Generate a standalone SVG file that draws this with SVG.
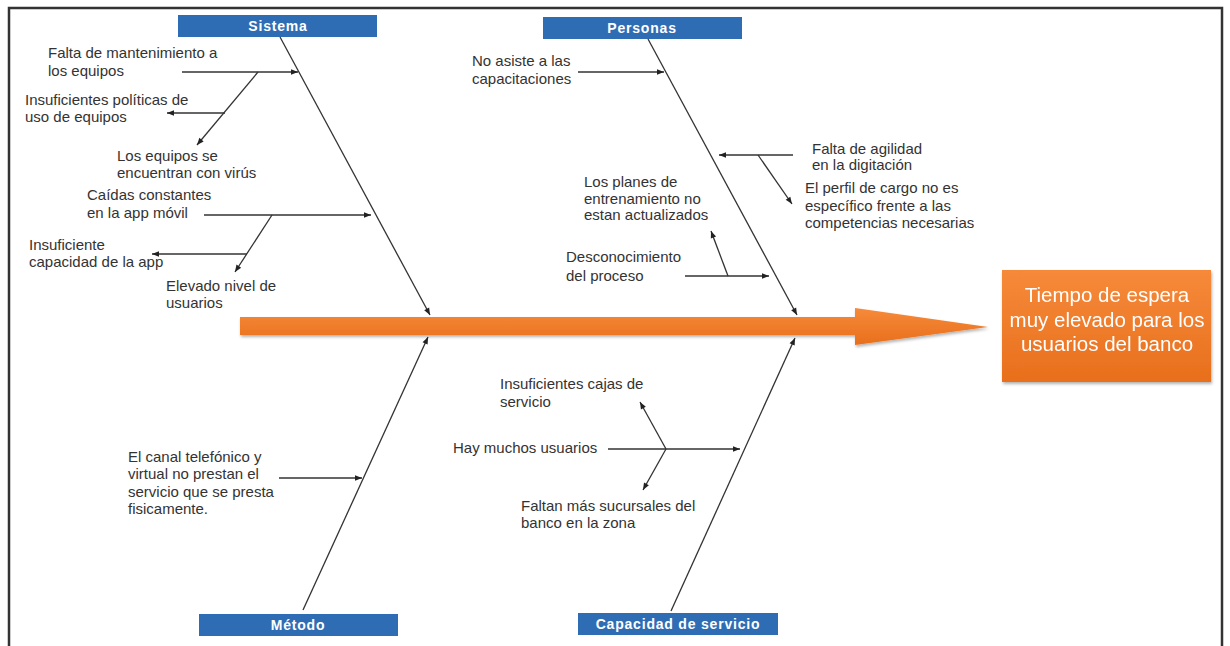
<svg xmlns="http://www.w3.org/2000/svg" width="1230" height="646" viewBox="0 0 1230 646">
<style>
.t{font-family:"Liberation Sans",Arial,sans-serif;font-size:15px;fill:#333}
.h{font-family:"Liberation Sans",Arial,sans-serif;font-size:14px;font-weight:bold;fill:#fff;letter-spacing:0.8px;text-anchor:middle}
.hb{fill:#2E6DB4}
.l{stroke:#333;stroke-width:1.3;fill:none}
.a{marker-end:url(#ah)}
.r{font-family:"Liberation Sans",Arial,sans-serif;font-size:20.5px;fill:#fff;text-anchor:middle}
</style>
<defs>
<marker id="ah" viewBox="0 0 10 10" refX="10" refY="5" markerWidth="9" markerHeight="7" markerUnits="userSpaceOnUse" orient="auto">
<path d="M0,1 L10,5 L0,9 Z" fill="#222"/>
</marker>
<linearGradient id="og" x1="0" y1="0" x2="0" y2="1">
<stop offset="0" stop-color="#F68A3A"/>
<stop offset="1" stop-color="#E86F1C"/>
</linearGradient>
<filter id="sh" x="-10%" y="-30%" width="120%" height="160%">
<feDropShadow dx="1" dy="2" stdDeviation="1.5" flood-color="#000" flood-opacity="0.3"/>
</filter>
</defs>
<rect x="0" y="0" width="1230" height="646" fill="#fff"/>
<rect x="9" y="8" width="1213" height="660" fill="none" stroke="#333" stroke-width="2.5"/>

<g id="main-arrow" filter="url(#sh)">
<path d="M240,317 L855,317 L855,308 L988,327 L855,345 L855,335 L240,335 Z" fill="url(#og)"/>
</g>

<g id="effect" filter="url(#sh)">
<rect x="1002" y="270" width="209" height="112" fill="url(#og)"/>
<text class="r" x="1107" y="302">Tiempo de espera</text>
<text class="r" x="1107" y="327">muy elevado para los</text>
<text class="r" x="1107" y="351">usuarios del banco</text>
</g>

<g id="sistema">
<rect class="hb" x="178" y="15" width="199" height="22"/>
<text class="h" x="278" y="31">Sistema</text>
<text class="t" x="48" y="58">Falta de mantenimiento a</text>
<text class="t" x="48" y="76">los equipos</text>
<text class="t" x="25" y="105">Insuficientes políticas de</text>
<text class="t" x="25" y="122">uso de equipos</text>
<text class="t" x="117" y="161">Los equipos se</text>
<text class="t" x="117" y="178">encuentran con virús</text>
<text class="t" x="87" y="200">Caídas constantes</text>
<text class="t" x="87" y="218">en la app móvil</text>
<text class="t" x="29" y="250">Insuficiente</text>
<text class="t" x="29" y="267">capacidad de la app</text>
<text class="t" x="166" y="291">Elevado nivel de</text>
<text class="t" x="166" y="308">usuarios</text>
</g>

<g id="personas">
<rect class="hb" x="543" y="17" width="199" height="22"/>
<text class="h" x="642" y="33">Personas</text>
<text class="t" x="472" y="66">No asiste a las</text>
<text class="t" x="472" y="84">capacitaciones</text>
<text class="t" x="812" y="154">Falta de agilidad</text>
<text class="t" x="812" y="170">en la digitación</text>
<text class="t" x="805" y="193">El perfil de cargo no es</text>
<text class="t" x="805" y="211">específico frente a las</text>
<text class="t" x="805" y="228">competencias necesarias</text>
<text class="t" x="584" y="187">Los planes de</text>
<text class="t" x="584" y="204">entrenamiento no</text>
<text class="t" x="584" y="220">estan actualizados</text>
<text class="t" x="566" y="262">Desconocimiento</text>
<text class="t" x="566" y="281">del proceso</text>
</g>

<g id="metodo">
<rect class="hb" x="199" y="614" width="199" height="22"/>
<text class="h" x="298" y="630">Método</text>
<text class="t" x="128" y="462">El canal telefónico y</text>
<text class="t" x="128" y="479">virtual no prestan el</text>
<text class="t" x="128" y="497">servicio que se presta</text>
<text class="t" x="128" y="514">fisicamente.</text>
</g>

<g id="capacidad">
<rect class="hb" x="578" y="613" width="200" height="22"/>
<text class="h" x="678" y="629">Capacidad de servicio</text>
<text class="t" x="500" y="389">Insuficientes cajas de</text>
<text class="t" x="500" y="407">servicio</text>
<text class="t" x="453" y="453">Hay muchos usuarios</text>
<text class="t" x="521" y="511">Faltan más sucursales del</text>
<text class="t" x="521" y="528">banco en la zona</text>
</g>

<g id="connectors">
<line class="l a" x1="280" y1="37" x2="430" y2="315"/>
<line class="l a" x1="182" y1="72" x2="298" y2="72"/>
<line class="l a" x1="258" y1="72" x2="197" y2="145"/>
<line class="l a" x1="225" y1="113" x2="167" y2="113"/>
<line class="l a" x1="204" y1="215" x2="371" y2="215"/>
<line class="l a" x1="272" y1="215" x2="235" y2="272"/>
<line class="l a" x1="247" y1="254" x2="152" y2="254"/>

<line class="l a" x1="648" y1="39" x2="797" y2="315"/>
<line class="l a" x1="578" y1="72" x2="664" y2="72"/>
<line class="l a" x1="793" y1="155" x2="719" y2="155"/>
<line class="l a" x1="758" y1="155" x2="792" y2="204"/>
<line class="l a" x1="685" y1="276" x2="769" y2="276"/>
<line class="l a" x1="728" y1="276" x2="711" y2="231"/>

<line class="l a" x1="303" y1="610" x2="428" y2="337"/>
<line class="l a" x1="279" y1="478" x2="362" y2="478"/>

<line class="l a" x1="671" y1="611" x2="795" y2="338"/>
<line class="l a" x1="608" y1="449" x2="740" y2="449"/>
<line class="l a" x1="666" y1="449" x2="640" y2="402"/>
<line class="l a" x1="666" y1="449" x2="643" y2="490"/>
</g>
</svg>
